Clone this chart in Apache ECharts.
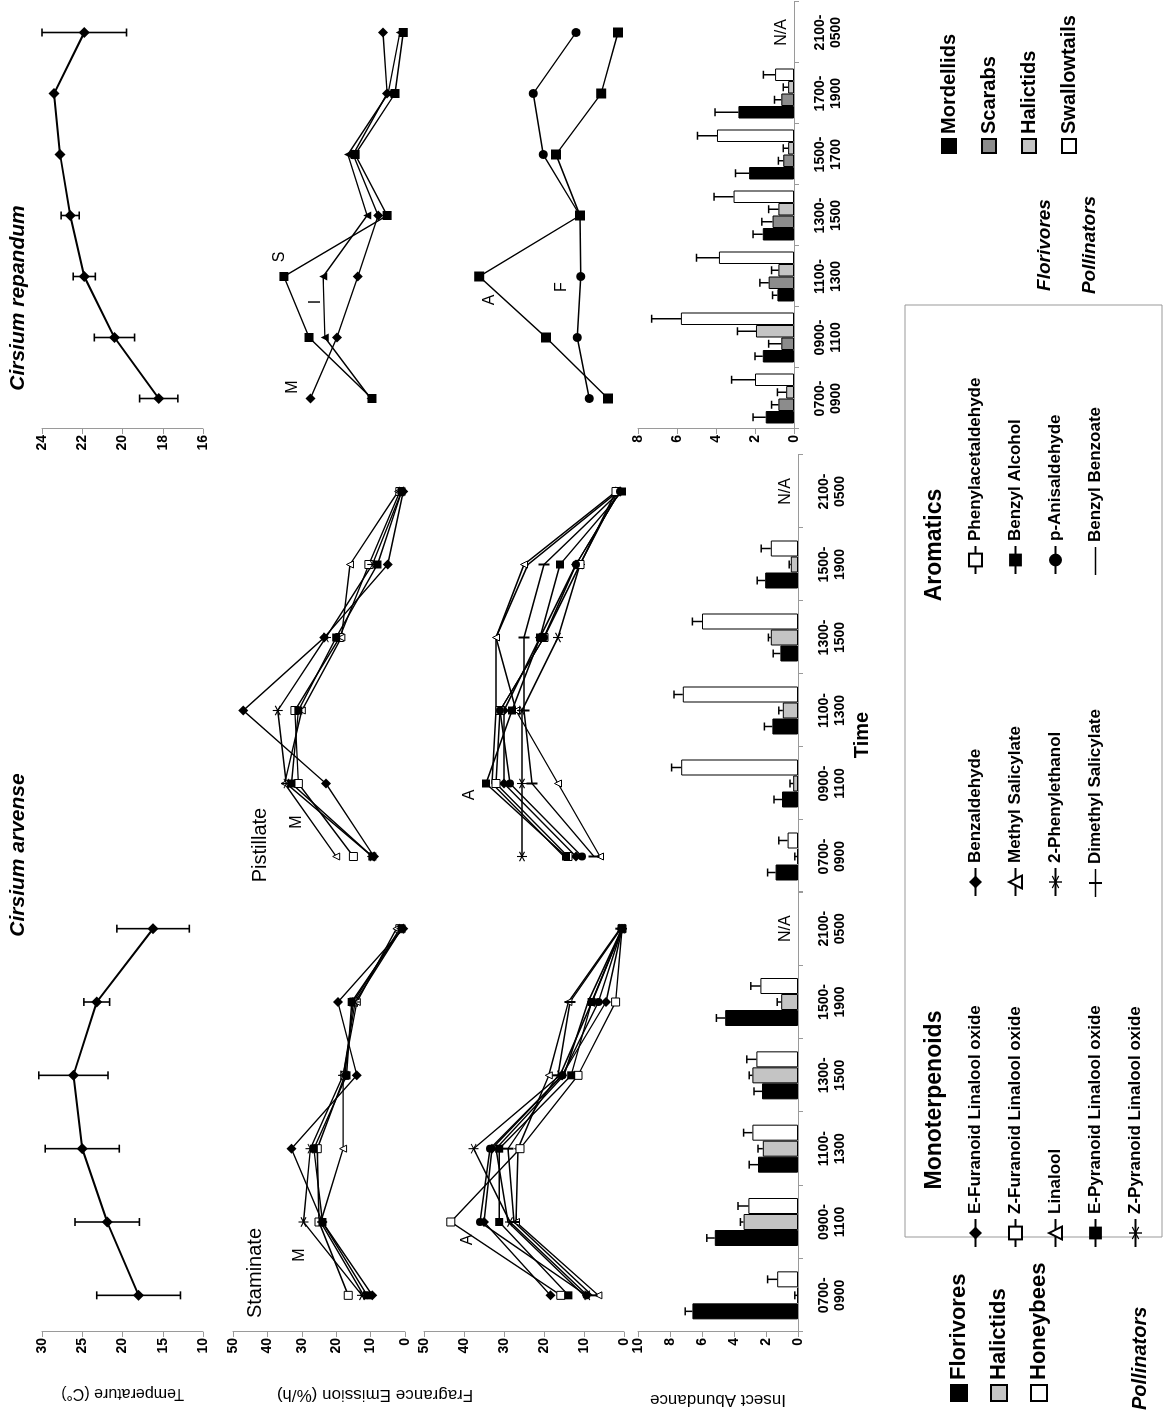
<!DOCTYPE html>
<html><head><meta charset="utf-8">
<script src="https://cdn.jsdelivr.net/npm/echarts@6/dist/echarts.min.js"></script>
<style>
html,body{margin:0;padding:0;background:#fff;overflow:hidden;width:1166px;height:1416px;}
#wrap{position:absolute;left:0;top:0;width:1166px;height:1416px;overflow:hidden;background:#fff;}
#chart{position:absolute;left:0;top:0;width:1416px;height:1166px;transform-origin:0 0;transform:translateY(1416px) rotate(-90deg);}
</style></head>
<body><div id="wrap"><div id="chart"></div></div>
<script>
// ---------------- DATA ----------------
const timeArvense = ['0700-\n0900','0900-\n1100','1100-\n1300','1300-\n1500','1500-\n1900','2100-\n0500'];
const timeRepandum = ['0700-\n0900','0900-\n1100','1100-\n1300','1300-\n1500','1500-\n1700','1700-\n1900','2100-\n0500'];

const tempArvense = [18.0, 21.9, 25.0, 26.1, 23.2, 16.2];
const tempArvenseErr = [5.2, 4.0, 4.6, 4.3, 1.6, 4.5];
const tempRepandum = [18.2, 20.4, 21.9, 22.6, 23.1, 23.4, 21.9];
const tempRepandumErr = [0.95, 1.0, 0.55, 0.45, 0, 0, 2.1];

const monoNames = ['E-Furanoid Linalool oxide','Z-Furanoid Linalool oxide','Linalool','E-Pyranoid Linalool oxide','Z-Pyranoid Linalool oxide'];
const aroNames = ['Benzaldehyde','Methyl Salicylate','2-Phenylethanol','Dimethyl Salicylate','Phenylacetaldehyde','Benzyl Alcohol','p-Anisaldehyde','Benzyl Benzoate'];

const monoStaminate = [
  [9.5, 24, 33, 14, 19.5, 0.5],
  [16.5, 25, 25.5, 17.5, 15, 1.5],
  [12, 24.5, 18, 18, 14, 2.5],
  [11, 24, 26.5, 17, 15.5, 1],
  [12.5, 29.5, 27.5, 18, 14.5, 1]
];
const monoPistillate = [
  [9, 23, 47, 23.5, 5, 0.5],
  [15, 31, 32, 19, 10.5, 1.5],
  [20, 35, 30, 18.5, 16, 2],
  [9.5, 33, 31, 20, 8, 1],
  [9.5, 34.5, 37, 23, 9.5, 1]
];
const aroStaminate = [
  [18.4, 35, 33, 15.5, 4.5, 0.5],
  [6.4, 27, 26.5, 18.8, 13.9, 1],
  [9.2, 28.5, 37.6, 16, 8, 0.5],
  [8, 27.5, 29, 16.5, 13.5, 0.8],
  [15.8, 43.3, 26, 11.5, 2.1, 0.5],
  [13.9, 31.2, 31.2, 13.2, 8.1, 0.5],
  [9.4, 36, 33.5, 15.4, 6.4, 0.5],
  [10, 29, 32, 15, 9, 0.5]
];
const aroPistillate = [
  [12, 30, 30, 21, 12, 1],
  [6, 16.5, 27, 32, 25, 2],
  [25.5, 25.5, 25.5, 16.5, 11, 1.5],
  [7.5, 23, 25, 25, 20, 1],
  [14, 32, 31, 20, 11, 2],
  [14.5, 34.5, 28, 21, 16, 0.5],
  [10.5, 28.5, 31, 20, 12, 1],
  [15, 33, 32, 32, 24, 1.5]
];
const repNamesTop = ['M','S','I'];
const monoRepandum = [
  [27.5, 19.8, 13.7, 7.8, 15.1, 5.2, 6.4],
  [9.6, 27.9, 35.2, 5.2, 14.5, 2.9, 0.5],
  [10, 23.3, 23.8, 11, 16.6, 4.9, 1.5]
];
const repNamesBottom = ['A','F'];
const aroRepandum = [
  [4, 19.5, 36.2, 11, 17, 5.7, 1.5],
  [8.7, 11.7, 10.8, 11, 20.2, 22.7, 12]
];

const insectArvNames = ['Florivores','Halictids','Honeybees'];
const insectStaminate = [
  [6.6, 5.2, 2.5, 2.25, 4.55, null],
  [0.05, 3.4, 2.2, 2.85, 1.05, null],
  [1.3, 3.1, 2.85, 2.6, 2.35, null]
];
const insectStaminateErr = [
  [0.45, 0.5, 0.55, 0.5, 0.55],
  [0.15, 0.2, 0.3, 0.2, 0.25],
  [0.6, 0.65, 0.55, 0.6, 0.6]
];
const insectPistillate = [
  [1.4, 1.0, 1.6, 1.1, 2.05, null],
  [0.05, 0.3, 0.95, 1.7, 0.45, null],
  [0.65, 7.3, 7.2, 6.0, 1.7, null]
];
const insectPistillateErr = [
  [0.5, 0.5, 0.5, 0.45, 0.5],
  [0.15, 0.2, 0.25, 0.15, 0.1],
  [0.55, 0.6, 0.55, 0.6, 0.6]
];
const insectRepNames = ['Mordellids','Scarabs','Halictids','Swallowtails'];
const insectRepandum = [
  [1.45, 1.6, 0.85, 1.6, 2.3, 2.85, null],
  [0.8, 0.65, 1.3, 1.1, 0.55, 0.65, null],
  [0.4, 1.95, 0.8, 0.8, 0.3, 0.3, null],
  [2.0, 5.8, 3.85, 3.1, 3.95, 0.97, null]
];
const insectRepandumErr = [
  [0.65, 0.4, 0.25, 0.5, 0.7, 1.2],
  [0.35, 0.65, 0.45, 0.55, 0.25, 0.35],
  [0.45, 0.95, 0.35, 0.5, 0.25, 0.25],
  [1.2, 1.5, 1.15, 1.0, 1.0, 0.6]
];

// ---------------- STYLE ----------------
const FF = '"Liberation Sans", Arial, Helvetica, sans-serif';
const ASTER = 'path://M-1,-10L1,-10L1,10L-1,10Z M-9.16,-4.13L-8.16,-5.87L9.16,4.13L8.16,5.87Z M8.16,-5.87L9.16,-4.13L-8.16,5.87L-9.16,4.13Z';
const TICK = 'path://M-1,-10L1,-10L1,10L-1,10Z';
const ICON_LINE = 'path://M0,0L28,0L28,0.01L0,0.01Z M0,7.2L28,7.2L28,8.8L0,8.8Z M0,16L28,16L28,16.01L0,16.01Z';
const ICON_TICK = 'path://M0,0L28,0L28,0.01L0,0.01Z M0,7.2L28,7.2L28,8.8L0,8.8Z M13,1.5L15,1.5L15,14.5L13,14.5Z M0,16L28,16L28,16.01L0,16.01Z';
const monoSym = [['diamond',10,'#000'],['rect',8,'#fff'],['triangle',7,'#fff'],['rect',8,'#000'],[ASTER,10,'#000']];
const aroSym = [['diamond',10,'#000'],['triangle',7,'#fff'],[ASTER,10,'#000'],[TICK,[2,11],'#000'],['rect',8,'#fff'],['rect',8,'#000'],['circle',8,'#000'],['none',1,'#000']];
const repTopSym = [['diamond',10,'#000'],['rect',9,'#000'],['triangle',8,'#000']];
const repBotSym = [['rect',10,'#000'],['circle',9,'#000']];
const arvBarColors = ['#000','#c4c4c4','#fff'];
const repBarColors = ['#000','#8c8c8c','#c4c4c4','#fff'];

// grids: [left, top, width, height]
const gridBoxes = [
  [84, 42, 440, 161],   // 0 temp arvense
  [987, 42, 427, 161],  // 1 temp repandum
  [84, 233, 440, 172],  // 2 mono staminate
  [523, 233, 438, 172], // 3 mono pistillate
  [987, 233, 427, 172], // 4 repandum top
  [84, 424, 440, 200],  // 5 aro staminate
  [523, 424, 438, 200], // 6 aro pistillate
  [987, 424, 427, 200], // 7 repandum bottom
  [84, 638, 440, 160],  // 8 insect staminate
  [523, 638, 438, 160], // 9 insect pistillate
  [987, 638, 427, 156]  // 10 insect repandum
];
const gridCats = [timeArvense, timeRepandum, timeArvense, timeArvense, timeRepandum, timeArvense, timeArvense, timeRepandum, timeArvense, timeArvense, timeRepandum];
const axisGray = '#9a9a9a';
const tickLabel = {color:'#000', fontWeight:'bold', fontSize:14, fontFamily:FF, margin:6};

const grid = gridBoxes.map(b => ({left:b[0], top:b[1], width:b[2], height:b[3], containLabel:false}));
const xAxis = gridCats.map((cats, i) => ({
  type:'category', gridIndex:i, data:cats, boundaryGap:true, show:i >= 8,
  axisLine:{show:true, onZero:false, lineStyle:{color:axisGray, width:1}},
  axisTick:{show:true, length:5, lineStyle:{color:axisGray}},
  axisLabel:{show:true, interval:0, color:'#000', fontWeight:'bold', fontSize:14, lineHeight:16, fontFamily:FF, margin:18},
  splitLine:{show:false}
}));
function vAxis(i, min, max, interval, shown, extra) {
  return Object.assign({
    type:'value', gridIndex:i, min, max, interval, show:shown,
    axisLine:{show:true, lineStyle:{color:axisGray}},
    axisTick:{show:true, length:5, lineStyle:{color:axisGray}},
    axisLabel:tickLabel, splitLine:{show:false}
  }, extra || {});
}
const nameStyle = {color:'#000', fontSize:16, fontFamily:FF};
const yAxis = [
  vAxis(0, 10, 30, 5, true, {name:'Temperature (C°)', nameLocation:'middle', nameRotate:90, nameGap:53, nameTextStyle:nameStyle}),
  vAxis(1, 16, 24, 2, true),
  vAxis(2, 0, 50, 10, true),
  vAxis(3, 0, 50, 10, false),
  vAxis(4, 0, 50, 10, false),
  vAxis(5, 0, 50, 10, true),
  vAxis(6, 0, 50, 10, false),
  vAxis(7, 0, 50, 10, false),
  vAxis(8, 0, 10, 2, true, {name:'Insect Abundance', nameLocation:'middle', nameRotate:90, nameGap:59, nameTextStyle:Object.assign({}, nameStyle, {fontSize:17})}),
  vAxis(9, 0, 10, 2, false),
  vAxis(10, 0, 8, 2, true)
];

function lineSeries(name, gi, data, sym, width) {
  return {
    type:'line', name, xAxisIndex:gi, yAxisIndex:gi, data,
    symbol:sym[0], symbolSize:sym[1], showSymbol:sym[0] !== 'none',
    itemStyle:{color:sym[2], borderColor:'#000', borderWidth: sym[2] === '#fff' ? 1 : 0},
    lineStyle:{color:'#000', width:width || 1.4},
    emphasis:{disabled:true}, z:3, animation:false
  };
}
function tempErr(gi, vals, errs) {
  return {
    type:'custom', xAxisIndex:gi, yAxisIndex:gi, silent:true, z:2,
    data: vals.map((v, i) => [i, v, errs[i]]),
    encode:{x:0, y:1},
    renderItem(params, api) {
      const i = api.value(0), v = api.value(1), e = api.value(2);
      if (!e) return null;
      const a = api.coord([i, v - e]), b = api.coord([i, v + e]);
      const st = {stroke:'#000', lineWidth:1.6};
      return {type:'group', children:[
        {type:'line', shape:{x1:a[0], y1:a[1], x2:b[0], y2:b[1]}, style:st},
        {type:'line', shape:{x1:a[0]-4, y1:a[1], x2:a[0]+4, y2:a[1]}, style:st},
        {type:'line', shape:{x1:b[0]-4, y1:b[1], x2:b[0]+4, y2:b[1]}, style:st}
      ]};
    }
  };
}
function barSeries(name, gi, data, color, bw) {
  return {
    type:'bar', name, xAxisIndex:gi, yAxisIndex:gi, data, barWidth:bw, barGap:'0%',
    itemStyle:{color, borderColor:'#000', borderWidth:1}, emphasis:{disabled:true}, z:2, animation:false
  };
}
function barErr(gi, vals, errs, k, n, bw) {
  return {
    type:'custom', xAxisIndex:gi, yAxisIndex:gi, silent:true, z:4,
    data: vals.map((v, i) => v == null ? null : [i, v, errs[i]]).filter(d => d),
    encode:{x:0, y:1},
    renderItem(params, api) {
      const i = api.value(0), v = api.value(1), e = api.value(2);
      const a = api.coord([i, v]), b = api.coord([i, v + e]);
      const x = a[0] + (k - (n - 1) / 2) * bw;
      const st = {stroke:'#000', lineWidth:1.5};
      return {type:'group', children:[
        {type:'line', shape:{x1:x, y1:a[1], x2:x, y2:b[1]}, style:st},
        {type:'line', shape:{x1:x-4, y1:b[1], x2:x+4, y2:b[1]}, style:st}
      ]};
    }
  };
}

const series = [];
series.push(tempErr(0, tempArvense, tempArvenseErr));
series.push(lineSeries('Temperature arvense', 0, tempArvense, ['diamond', 11, '#000'], 2));
series.push(tempErr(1, tempRepandum, tempRepandumErr));
series.push(lineSeries('Temperature repandum', 1, tempRepandum, ['diamond', 11, '#000'], 2));
monoStaminate.forEach((d, i) => series.push(lineSeries(monoNames[i], 2, d, monoSym[i])));
monoPistillate.forEach((d, i) => series.push(lineSeries(monoNames[i], 3, d, monoSym[i])));
monoRepandum.forEach((d, i) => series.push(lineSeries('repandum ' + repNamesTop[i], 4, d, repTopSym[i])));
aroStaminate.forEach((d, i) => series.push(lineSeries(aroNames[i], 5, d, aroSym[i])));
aroPistillate.forEach((d, i) => series.push(lineSeries(aroNames[i], 6, d, aroSym[i])));
aroRepandum.forEach((d, i) => series.push(lineSeries('repandum ' + repNamesBottom[i], 7, d, repBotSym[i])));
insectStaminate.forEach((d, k) => series.push(barSeries(insectArvNames[k], 8, d, arvBarColors[k], 16)));
insectPistillate.forEach((d, k) => series.push(barSeries(insectArvNames[k], 9, d, arvBarColors[k], 16)));
insectRepandum.forEach((d, k) => series.push(barSeries(insectRepNames[k], 10, d, repBarColors[k], 12.5)));
insectStaminate.forEach((d, k) => series.push(barErr(8, d, insectStaminateErr[k], k, 3, 16)));
insectPistillate.forEach((d, k) => series.push(barErr(9, d, insectPistillateErr[k], k, 3, 16)));
insectRepandum.forEach((d, k) => series.push(barErr(10, d, insectRepandumErr[k], k, 4, 12.5)));

// legends: one component per row for exact placement
const legTxt = {color:'#000', fontWeight:'bold', fontSize:17, fontFamily:FF};
const legend = [];
function addLeg(name, left, top, opts) {
  legend.push(Object.assign({
    data:[name], left, top, orient:'vertical', padding:0, selectedMode:false,
    itemWidth:28, itemHeight:16, itemGap:0, textStyle:legTxt
  }, opts || {}));
}
const legRows = [975, 1015, 1055, 1095, 1135];
monoNames.forEach((n, i) => addLeg(n, 168, legRows[i] - 8));
aroNames.slice(0, 4).forEach((n, i) => addLeg(n, 519, legRows[i] - 8, i === 3 ? {icon:ICON_TICK} : null));
aroNames.slice(4).forEach((n, i) => addLeg(n, 841, legRows[i] - 8, i === 3 ? {icon:ICON_LINE} : null));
const bigTxt = {color:'#000', fontWeight:'bold', fontSize:22, fontFamily:FF};
insectArvNames.forEach((n, i) => addLeg(n, 14, [960, 1000, 1040][i] - 12, {icon:'rect', itemWidth:16, itemHeight:16, textStyle:bigTxt}));
insectRepNames.forEach((n, i) => addLeg(n, 1262, [950, 990, 1030, 1070][i] - 11, {icon:'rect', itemWidth:14, itemHeight:14, textStyle:Object.assign({}, bigTxt, {fontSize:20})}));

const chart = echarts.init(document.getElementById('chart'), null, {renderer:'canvas', width:1416, height:1166});
chart.setOption({animation:false, backgroundColor:'#fff', grid, xAxis, yAxis, series, legend});

// ---------------- ANNOTATIONS ----------------
function txt(text, x, y, size, extra) {
  const s = Object.assign({text, fill:'#000', fontSize:size, fontFamily:FF, align:'center', verticalAlign:'middle', textAlign:'center', textVerticalAlign:'middle'}, extra || {});
  return {type:'text', x, y, style:s, silent:true};
}
const graphic = [];
graphic.push(txt('Cirsium arvense', 561, 18, 21, {fontWeight:'bold', fontStyle:'italic'}));
graphic.push(txt('Cirsium repandum', 1118, 18, 21, {fontWeight:'bold', fontStyle:'italic'}));
graphic.push(Object.assign(txt('Fragrance Emission (%/h)', 21, 375, 17), {rotation:Math.PI / 2}));
graphic.push(txt('Staminate', 143, 255, 20));
graphic.push(txt('Pistillate', 571, 260, 20));
graphic.push(txt('M', 161, 300, 16));
graphic.push(txt('M', 594, 297, 16));
graphic.push(txt('A', 176, 468, 16));
graphic.push(txt('A', 621, 470, 16));
graphic.push(txt('M', 1029, 293, 16));
graphic.push(txt('S', 1159, 280, 16));
graphic.push(txt('I', 1114, 316, 16));
graphic.push(txt('A', 1116, 490, 16));
graphic.push(txt('F', 1129, 562, 16));
graphic.push(txt('Time', 681, 862, 20, {fontWeight:'bold'}));
// N/A labels placed at the empty category through the axes
[[8, 5], [9, 5], [10, 6]].forEach(([gi, idx]) => {
  const p = chart.convertToPixel({xAxisIndex:gi, yAxisIndex:gi}, [idx, 0]);
  graphic.push(txt('N/A', p[0], p[1] - 12, 16));
});
// legend box and headers
graphic.push({type:'rect', shape:{x:179, y:905, width:932, height:257}, style:{fill:'none', stroke:'#999', lineWidth:1}, silent:true});
graphic.push(txt('Monoterpenoids', 316, 935, 23, {fontWeight:'bold'}));
graphic.push(txt('Aromatics', 871, 935, 23, {fontWeight:'bold'}));
graphic.push(txt('Pollinators', 6, 1140, 20, {fontWeight:'bold', fontStyle:'italic', align:'left', textAlign:'left'}));
graphic.push(txt('Florivores', 1171, 1045, 19, {fontWeight:'bold', fontStyle:'italic'}));
graphic.push(txt('Pollinators', 1171, 1090, 19, {fontWeight:'bold', fontStyle:'italic'}));
chart.setOption({graphic});
</script>
</body></html>
